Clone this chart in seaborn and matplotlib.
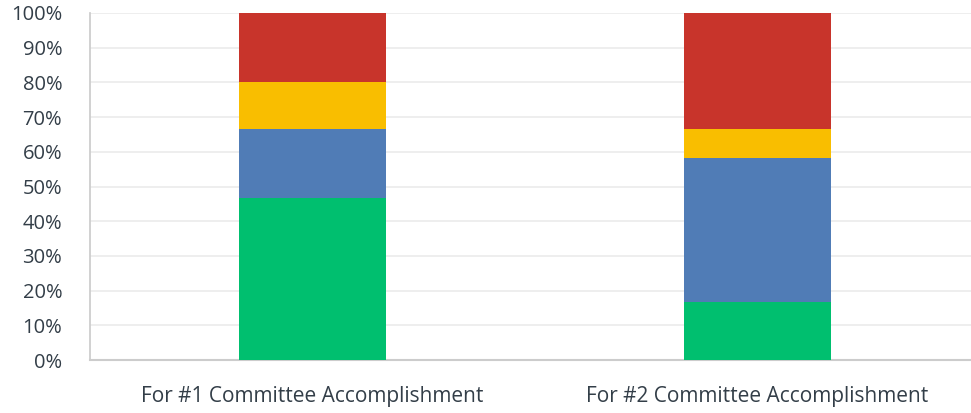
import matplotlib.pyplot as plt
import matplotlib.ticker as mticker
import numpy as np
import pandas as pd
import seaborn as sns

sns.set_theme(style='white')
plt.rcParams['font.family'] = ['Open Sans', 'DejaVu Sans']

categories = ['For #1 Committee Accomplishment', 'For #2 Committee Accomplishment']
green = [46.67, 16.67]
blue = [20.0, 41.67]
yellow = [13.33, 8.33]
red = [20.0, 33.33]

series = [green, blue, yellow, red]
colors = ['#00bf6f', '#507cb6', '#f9be00', '#c8342b']

fig = plt.figure(figsize=(9.71, 4.13), dpi=100)
ax = fig.add_axes([90 / 971, 53 / 413, 881 / 971, 347 / 413])

# stacked: draw cumulative totals from the top layer down
cum = np.cumsum(np.array(series), axis=0)
for i in range(len(series) - 1, -1, -1):
    df = pd.DataFrame({'cat': categories, 'val': cum[i]})
    sns.barplot(data=df, x='cat', y='val', color=colors[i], width=0.33,
                saturation=1, ax=ax, zorder=3, linewidth=0)

ax.set_ylim(0, 100)
ax.set_xlim(-0.5, 1.48)
ax.yaxis.set_major_locator(mticker.MultipleLocator(10))
ax.yaxis.set_major_formatter(mticker.FuncFormatter(lambda v, p: f'{int(v)}%'))
ax.grid(axis='y', color='#ebebeb', linewidth=1.2, zorder=0)
ax.set_axisbelow(True)
for s in ['top', 'right']:
    ax.spines[s].set_visible(False)
ax.spines['left'].set_color('#cccccc')
ax.spines['bottom'].set_color('#cccccc')
ax.spines['bottom'].set_linewidth(1.5)
ax.set_xlabel('')
ax.set_ylabel('')
ax.tick_params(axis='y', labelsize=14.5, colors='#333e48', length=0, pad=20)
ax.tick_params(axis='x', labelsize=15, colors='#333e48', length=0, pad=19)
for lbl in ax.get_yticklabels():
    lbl.set_horizontalalignment('right')

fig.savefig('out.png', dpi=100)
